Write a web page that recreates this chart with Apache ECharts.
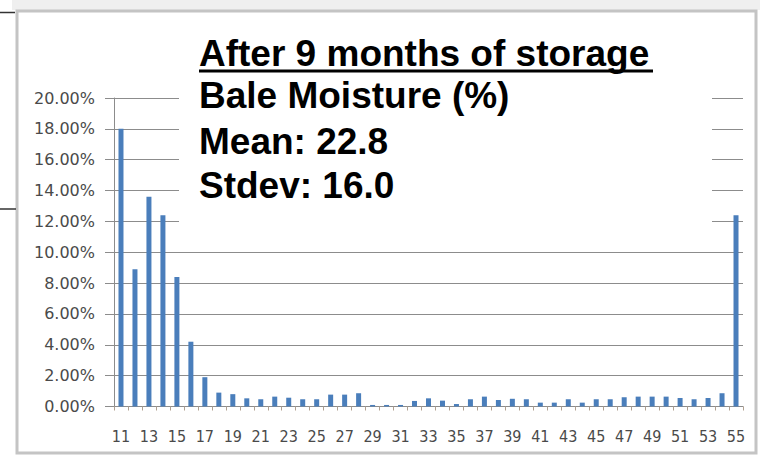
<!DOCTYPE html>
<html>
<head>
<meta charset="utf-8">
<script src="https://cdn.jsdelivr.net/npm/echarts@6/dist/echarts.min.js"></script>
<style>
html,body{margin:0;padding:0;background:#fff;}
#chart{width:760px;height:457px;}
</style>
</head>
<body>
<div id="chart"></div>
<script>
// Moisture categories (%)
var categories = ['11','12','13','14','15','16','17','18','19','20','21','22','23','24','25','26','27','28','29','30','31','32','33','34','35','36','37','38','39','40','41','42','43','44','45','46','47','48','49','50','51','52','53','54','55'];
// Share of bales (%)
var shareValues = [18.0,8.9,13.6,12.4,8.4,4.2,1.9,0.9,0.8,0.53,0.47,0.64,0.57,0.47,0.47,0.77,0.77,0.86,0.1,0.1,0.1,0.36,0.53,0.38,0.16,0.47,0.64,0.42,0.5,0.47,0.25,0.25,0.47,0.25,0.47,0.47,0.6,0.64,0.64,0.64,0.55,0.47,0.55,0.86,12.4];
// Y axis ticks (%)
var yTicks = [0,2,4,6,8,10,12,14,16,18,20];
// Annotation text
var titleLines = ['After 9 months of storage','Bale Moisture (%)','Mean: 22.8','Stdev: 16.0'];

var chart = echarts.init(document.getElementById('chart'), null, {renderer:'svg'});
var gridColor = '#8c8c8c';
var textFont = "bold 37px 'Liberation Sans', Arial, sans-serif";
var lineBaselines = [66.5, 108, 154.5, 198];

var graphics = [
  {type:'rect', z:0, silent:true, shape:{x:12,y:0,width:748,height:10}, style:{fill:'#efefef'}},
  {type:'rect', z:0, silent:true, shape:{x:17,y:11,width:739,height:442}, style:{fill:'none',stroke:'#c4c4c4',lineWidth:3}},
  {type:'line', z:1, silent:true, shape:{x1:0,y1:12.5,x2:15,y2:12.5}, style:{stroke:'#333',lineWidth:1.5}},
  {type:'line', z:1, silent:true, shape:{x1:0,y1:209,x2:16,y2:209}, style:{stroke:'#333',lineWidth:1.5}},
  {type:'rect', z:50, silent:true, shape:{x:179,y:22,width:533,height:215}, style:{fill:'#ffffff'}}
];
titleLines.forEach(function(t,i){
  graphics.push({type:'text', z:60, silent:true, x:199, y:lineBaselines[i]-13,
    style:{text:t, font:textFont, fill:'#000', textAlign:'left', textVerticalAlign:'middle', verticalAlign:'middle'}});
});
graphics.push({type:'rect', z:60, silent:true, shape:{x:199,y:69.5,width:454,height:3}, style:{fill:'#000'}});

chart.setOption({
  animation:false,
  backgroundColor:'#ffffff',
  grid:{left:114,right:17,top:98,bottom:50.5,containLabel:false,outerBoundsMode:'none'},
  xAxis:{
    type:'category',
    data:categories,
    boundaryGap:true,
    axisLine:{show:true,lineStyle:{color:gridColor,width:1}},
    axisTick:{show:true,interval:0,length:4,lineStyle:{color:'#b0a090',width:1}},
    axisLabel:{interval:1,margin:22,color:'#4a4a4a',fontSize:16,fontFamily:"'Liberation Sans Narrow','DejaVu Sans Condensed',sans-serif"},
    splitLine:{show:false}
  },
  yAxis:{
    type:'value',
    min:yTicks[0],
    max:yTicks[yTicks.length-1],
    interval:yTicks[1]-yTicks[0],
    axisLine:{show:true,lineStyle:{color:gridColor,width:1}},
    axisTick:{show:true,length:9,lineStyle:{color:gridColor,width:1}},
    axisLabel:{margin:19,color:'#4a4a4a',fontSize:16,fontFamily:"'DejaVu Sans',sans-serif",
      formatter:function(v){return v.toFixed(2)+'%';}},
    splitLine:{show:true,lineStyle:{color:gridColor,width:1}}
  },
  series:[{
    type:'bar',
    data:shareValues,
    barWidth:5,
    itemStyle:{color:'#4a7ebb'},
    z:5
  }],
  graphic:graphics
});
</script>
</body>
</html>
